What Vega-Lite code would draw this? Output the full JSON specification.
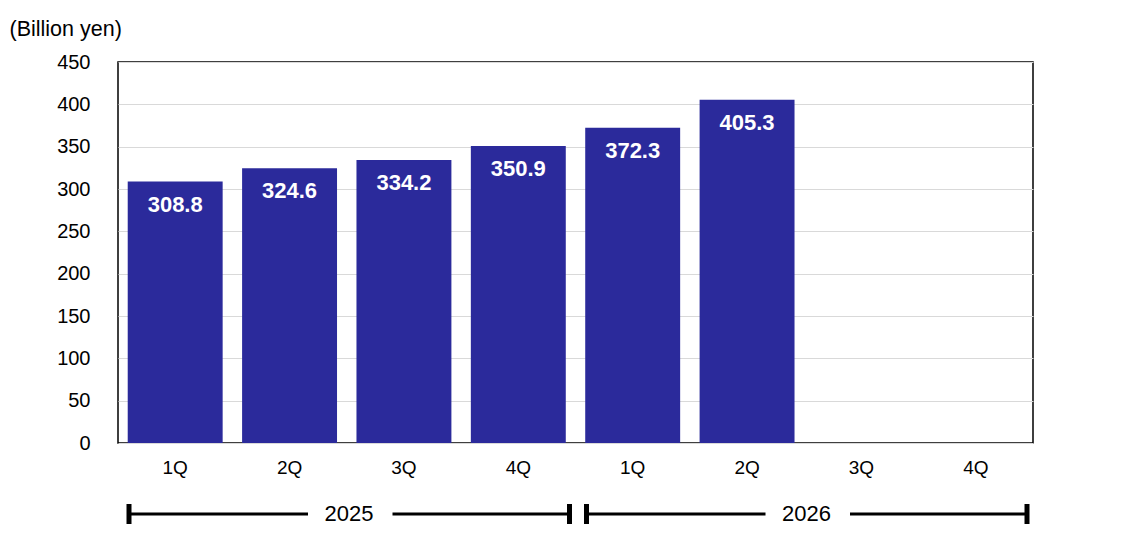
{
  "$schema": "https://vega.github.io/schema/vega-lite/v6.json",
  "padding": {"left": 8, "top": 17, "right": 10, "bottom": 10},
  "background": "white",
  "config": {
    "font": "Liberation Sans",
    "axis": {"labelFont": "Liberation Sans", "titleFont": "Liberation Sans", "labelColor": "#000000", "titleColor": "#000000"}
  },
  "spacing": 23,
  "vconcat": [
    {
      "width": 915,
      "height": 381,
      "view": {"stroke": "#000000", "strokeWidth": 1.5},
      "data": {
        "values": [
          {"period": "2025-1Q", "value": 308.8},
          {"period": "2025-2Q", "value": 324.6},
          {"period": "2025-3Q", "value": 334.2},
          {"period": "2025-4Q", "value": 350.9},
          {"period": "2026-1Q", "value": 372.3},
          {"period": "2026-2Q", "value": 405.3},
          {"period": "2026-3Q", "value": null},
          {"period": "2026-4Q", "value": null}
        ]
      },
      "encoding": {
        "x": {
          "field": "period",
          "type": "nominal",
          "sort": null,
          "scale": {
            "domain": ["2025-1Q", "2025-2Q", "2025-3Q", "2025-4Q", "2026-1Q", "2026-2Q", "2026-3Q", "2026-4Q"],
            "paddingInner": 0.17,
            "paddingOuter": 0.085
          },
          "axis": {
            "title": null,
            "labelAngle": 0,
            "labelExpr": "substring(datum.label, 5)",
            "labelFontSize": 19,
            "labelPadding": 15,
            "ticks": false,
            "domain": false,
            "grid": false
          }
        },
        "y": {
          "field": "value",
          "type": "quantitative",
          "scale": {"domain": [0, 450], "nice": false},
          "axis": {
            "values": [0, 50, 100, 150, 200, 250, 300, 350, 400, 450],
            "title": "(Billion yen)",
            "titleAngle": 0,
            "titleAlign": "left",
            "titleBaseline": "middle",
            "titleX": -109,
            "titleY": -33,
            "titleFontSize": 21.5,
            "titleFontWeight": "normal",
            "labelFontSize": 20,
            "labelPadding": 28,
            "ticks": false,
            "domain": false,
            "grid": true,
            "gridColor": "#d9d9d9",
            "gridWidth": 1
          }
        }
      },
      "layer": [
        {"mark": {"type": "bar", "color": "#2B2A9B"}},
        {
          "mark": {"type": "text", "color": "#ffffff", "fontWeight": "bold", "fontSize": 22, "baseline": "middle", "dy": 23, "font": "Liberation Sans"},
          "encoding": {"text": {"field": "value", "type": "quantitative", "format": ".1f"}}
        }
      ]
    },
    {
      "width": 915,
      "height": 20,
      "view": {"stroke": null},
      "data": {
        "values": [
          {"year": "2025", "start": 0, "end": 4},
          {"year": "2026", "start": 4, "end": 8}
        ]
      },
      "encoding": {
        "x": {"field": "start", "type": "quantitative", "scale": {"domain": [0, 8], "nice": false, "zero": false}, "axis": null}
      },
      "layer": [
        {"mark": {"type": "rule", "color": "#000000", "strokeWidth": 5, "xOffset": 11}},
        {
          "mark": {"type": "rule", "color": "#000000", "strokeWidth": 5, "xOffset": -6},
          "encoding": {"x": {"field": "end", "type": "quantitative"}}
        },
        {
          "mark": {"type": "rule", "color": "#000000", "strokeWidth": 3, "xOffset": 11, "x2Offset": 190},
          "encoding": {"x2": {"field": "start"}}
        },
        {
          "mark": {"type": "rule", "color": "#000000", "strokeWidth": 3, "xOffset": -183, "x2Offset": -6},
          "encoding": {"x": {"field": "end", "type": "quantitative"}, "x2": {"field": "end"}}
        },
        {
          "mark": {"type": "text", "color": "#000000", "fontSize": 22, "baseline": "middle", "align": "center", "xOffset": 231, "font": "Liberation Sans"},
          "encoding": {"text": {"field": "year", "type": "nominal"}}
        }
      ]
    }
  ]
}
